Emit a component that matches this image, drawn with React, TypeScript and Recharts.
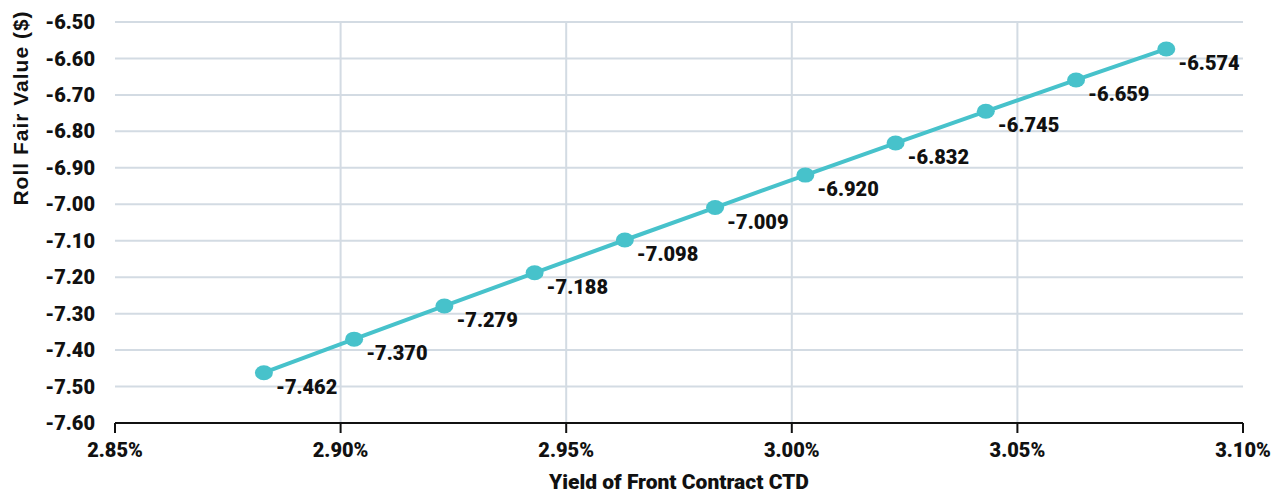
import { LineChart, Line, XAxis, YAxis, CartesianGrid, ReferenceLine } from 'recharts';

// 前限月CTDの利回り (%) とロールの理論価値 ($)
const yields = [2.883, 2.903, 2.923, 2.943, 2.963, 2.983, 3.003, 3.023, 3.043, 3.063, 3.083];
const rollValues = [-7.462, -7.37, -7.279, -7.188, -7.098, -7.009, -6.92, -6.832, -6.745, -6.659, -6.574];

const xTicks = [2.85, 2.9, 2.95, 3.0, 3.05, 3.1];
const yTicks = [-7.6, -7.5, -7.4, -7.3, -7.2, -7.1, -7.0, -6.9, -6.8, -6.7, -6.6, -6.5];

const data = yields.map((y, i) => ({ yield: y, value: rollValues[i] }));

const TEAL = '#47c2cb';
const GRID = '#d3dbe3';
const FONT = 'Roboto, "Noto Sans", sans-serif';

const Dot = (props: any) => {
    const { cx, cy } = props;
    return <ellipse cx={cx} cy={cy} rx={9} ry={7.5} fill={TEAL} />;
};

const ValueLabel = (props: any) => {
    const { x, y, value } = props;
    return (
        <text x={x + 12} y={y + 21} fontFamily={FONT} fontWeight={900} fontSize={20} fill="#111">
            {Number(value).toFixed(3)}
        </text>
    );
};

export default function App() {
    return (
        <div style={{ position: 'absolute', left: 0, top: 0 }}>
            <LineChart width={1277} height={495} data={data} margin={{ top: 22, right: 34, bottom: 0, left: 0 }}>
                <CartesianGrid vertical={false} stroke={GRID} strokeWidth={2} />
                {xTicks.slice(1, -1).map(t => (
                    <ReferenceLine key={t} x={t} stroke={GRID} strokeWidth={2} />
                ))}
                <XAxis
                    type="number"
                    dataKey="yield"
                    domain={[2.85, 3.1]}
                    ticks={xTicks}
                    tickFormatter={(v: number) => v.toFixed(2) + '%'}
                    height={72}
                    tickSize={10}
                    tickMargin={10}
                    axisLine={{ stroke: '#111', strokeWidth: 2 }}
                    tickLine={{ stroke: '#111', strokeWidth: 2 }}
                    tick={{ fill: '#111', fontFamily: FONT, fontWeight: 900, fontSize: 20 }}
                    label={(p: any) => {
                        const vb = p.viewBox || {};
                        return (
                            <text
                                x={vb.x + vb.width / 2}
                                y={489}
                                textAnchor="middle"
                                fontFamily={FONT}
                                fontWeight={900}
                                fontSize={21}
                                fill="#111"
                            >
                                Yield of Front Contract CTD
                            </text>
                        );
                    }}
                />
                <YAxis
                    type="number"
                    domain={[-7.6, -6.5]}
                    ticks={yTicks}
                    tickFormatter={(v: number) => v.toFixed(2)}
                    width={115}
                    axisLine={false}
                    tickLine={false}
                    tickSize={6}
                    tickMargin={14}
                    tick={{ fill: '#111', fontFamily: FONT, fontWeight: 900, fontSize: 20 }}
                    label={() => (
                        <text
                            x={28}
                            y={108}
                            transform="rotate(-90 28 108)"
                            textAnchor="middle"
                            fontFamily='"Liberation Sans", Arial, sans-serif'
                            fontWeight={700}
                            fontSize={21}
                            letterSpacing={1}
                            fill="#111"
                        >
                            Roll Fair Value ($)
                        </text>
                    )}
                />
                <Line
                    type="linear"
                    dataKey="value"
                    stroke={TEAL}
                    strokeWidth={4}
                    dot={<Dot />}
                    activeDot={false}
                    label={<ValueLabel />}
                    isAnimationActive={false}
                />
            </LineChart>
        </div>
    );
}
